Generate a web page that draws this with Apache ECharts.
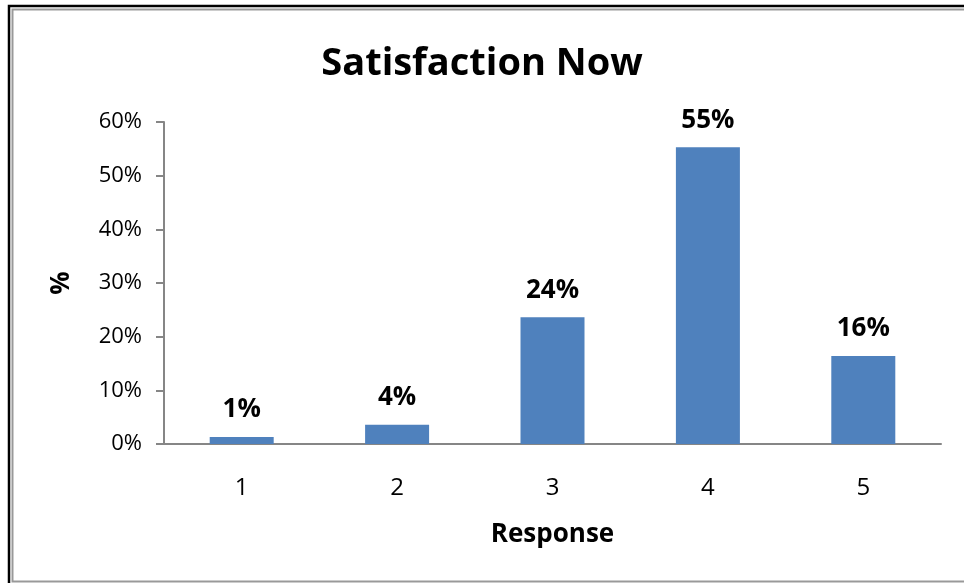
<!DOCTYPE html>
<html>
<head>
<meta charset="utf-8">
<script src="https://cdn.jsdelivr.net/npm/echarts@6/dist/echarts.min.js"></script>
<style>
    html, body { margin: 0; padding: 0; background: #fff; }
    #chart { width: 964px; height: 583px; }
</style>
</head>
<body>
<div id="chart"></div>
<script>
    var categories = ['1', '2', '3', '4', '5'];
    var satisfaction = [0.013, 0.036, 0.236, 0.553, 0.164];
    var yTicks = [0, 0.1, 0.2, 0.3, 0.4, 0.5, 0.6];

    var chart = echarts.init(document.getElementById('chart'));
    var font = '"Open Sans", sans-serif';

    var option = {
        animation: false,
        backgroundColor: '#fff',
        title: {
            text: 'Satisfaction Now',
            left: 'center',
            top: 40,
            textStyle: { fontFamily: font, fontSize: 38, fontWeight: 'bold', color: '#000' }
        },
        grid: { left: 164, right: 23, top: 122, bottom: 139 },
        // double frame round the chart area
        graphic: [
            { type: 'rect', shape: { x: 9, y: 6, width: 970, height: 600 }, style: { fill: 'none', stroke: '#000', lineWidth: 2.5 } },
            { type: 'rect', shape: { x: 12.5, y: 9.5, width: 970, height: 572 }, style: { fill: 'none', stroke: '#999', lineWidth: 2 } }
        ],
        xAxis: {
            type: 'category',
            data: categories,
            name: 'Response',
            nameLocation: 'middle',
            nameGap: 78,
            nameTextStyle: { fontFamily: font, fontSize: 26, fontWeight: 'bold', color: '#000' },
            axisLine: { lineStyle: { color: '#868686', width: 2 } },
            axisTick: { show: false },
            axisLabel: { fontFamily: font, fontSize: 24, color: '#000', margin: 32 }
        },
        yAxis: {
            type: 'value',
            min: yTicks[0],
            max: yTicks[yTicks.length - 1],
            interval: 0.1,
            name: '%',
            nameLocation: 'middle',
            nameGap: 89,
            nameRotate: 90,
            nameTextStyle: { fontFamily: font, fontSize: 26, fontWeight: 'bold', color: '#000' },
            splitLine: { show: false },
            axisLine: { show: true, lineStyle: { color: '#868686', width: 2 } },
            axisTick: { show: true, length: 8, lineStyle: { color: '#868686', width: 2 } },
            axisLabel: {
                fontFamily: font, fontSize: 22, color: '#000', margin: 22,
                formatter: function (v) { return Math.round(v * 100) + '%'; }
            }
        },
        series: [{
            type: 'bar',
            data: satisfaction,
            barWidth: 64,
            itemStyle: { color: '#4F81BD' },
            label: {
                show: true,
                position: 'top',
                distance: 14,
                fontFamily: font, fontSize: 26, fontWeight: 'bold', color: '#000',
                formatter: function (p) { return Math.round(p.value * 100) + '%'; }
            }
        }]
    };
    chart.setOption(option);
</script>
</body>
</html>
